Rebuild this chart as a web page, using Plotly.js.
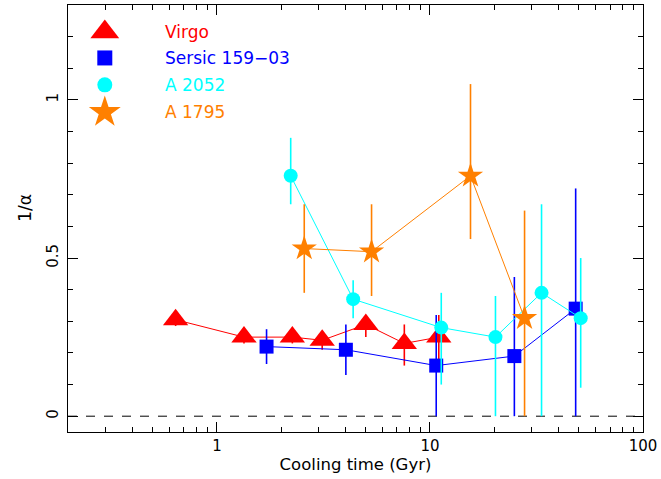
<!DOCTYPE html>
<html><head><meta charset="utf-8">
<script src="https://cdn.plot.ly/plotly-3.0.1.min.js"></script>
<style>html,body{margin:0;padding:0;background:#fff}#plot{width:661px;height:479px}</style>
</head><body><div id="plot"></div>
<script>
// ---- data ----
const virgoX = [0.64, 1.34, 2.26, 3.12, 5.0, 7.58, 11.0];
const virgoY = [0.305, 0.25, 0.25, 0.24, 0.29, 0.23, 0.25];
const virgoErrUp = [0.02, 0.02, 0.02, 0.02, 0.03, 0.06, 0.07];
const virgoErrDn = [0.02, 0.02, 0.02, 0.03, 0.04, 0.07, 0.07];

const sersicX = [1.71, 4.03, 10.7, 24.9, 48.3];
const sersicY = [0.22, 0.21, 0.16, 0.19, 0.34];
const sersicErrUp = [0.055, 0.08, 0.16, 0.25, 0.38];
const sersicErrDn = [0.055, 0.08, 0.16, 0.19, 0.34];

const a2052X = [2.22, 4.36, 11.3, 20.3, 33.4, 51.0];
const a2052Y = [0.76, 0.37, 0.28, 0.25, 0.39, 0.31];
const a2052ErrUp = [0.12, 0.06, 0.11, 0.13, 0.28, 0.19];
const a2052ErrDn = [0.09, 0.06, 0.18, 0.25, 0.39, 0.22];

const a1795X = [2.57, 5.32, 15.5, 27.8];
const a1795Y = [0.53, 0.52, 0.76, 0.31];
const a1795ErrUp = [0.14, 0.15, 0.29, 0.34];
const a1795ErrDn = [0.14, 0.14, 0.20, 0.31];

const seriesNames = ["Virgo", "Sersic 159\u221203", "A 2052", "A 1795"];
const seriesColors = ["#ff0000", "#0000ff", "#00ffff", "#ff8000"];
const seriesSymbols = ["triangle-up", "square", "circle", "star"];
const seriesSizes = [22, 14, 14, 19];

const xTickVals = [1, 10, 100];
const xTickText = ["1", "10", "100"];
const yTickVals = [0, 0.5, 1];
const yTickText = ["0", "0.5", "1"];

// ---- build ----
const FONT = "DejaVu Sans, sans-serif";
const series = [
  [virgoX, virgoY, virgoErrUp, virgoErrDn],
  [sersicX, sersicY, sersicErrUp, sersicErrDn],
  [a2052X, a2052Y, a2052ErrUp, a2052ErrDn],
  [a1795X, a1795Y, a1795ErrUp, a1795ErrDn]
];
const traces = series.map((s, i) => ({
  type: "scatter", mode: "lines+markers",
  x: s[0], y: s[1], name: seriesNames[i], showlegend: false,
  line: {color: seriesColors[i], width: 1},
  marker: {color: seriesColors[i], symbol: seriesSymbols[i], size: seriesSizes[i], opacity: 1, line: {width: 0}},
  error_y: {type: "data", symmetric: false, array: s[2], arrayminus: s[3],
            color: seriesColors[i], thickness: 1.6, width: 0}
}));

// legend key (manual, placed on hidden unit axes)
const keyX = 0.064, keyTextX = 0.165;
const keyY = [0.937, 0.876, 0.813, 0.749];
traces.push({
  type: "scatter", mode: "markers", xaxis: "x2", yaxis: "y2", showlegend: false,
  x: keyY.map(() => keyX), y: keyY, hoverinfo: "skip",
  marker: {color: seriesColors, symbol: seriesSymbols, size: [25, 15, 15, 24], opacity: 1, line: {width: 0}}
});
const annotations = seriesNames.map((n, i) => ({
  xref: "paper", yref: "paper", x: keyTextX, y: keyY[i], xanchor: "left", yanchor: "middle",
  text: n, showarrow: false, font: {family: FONT, size: 17, color: seriesColors[i]}
}));
annotations.push({
  xref: "paper", yref: "paper", x: -0.075, y: 0.525, xanchor: "center", yanchor: "middle",
  text: "1/\u03b1", textangle: -90, showarrow: false, font: {family: FONT, size: 17, color: "#000"}
});

const layout = {
  width: 661, height: 479,
  margin: {l: 68, r: 18, t: 5, b: 47},
  paper_bgcolor: "#fff", plot_bgcolor: "#fff",
  font: {family: FONT, size: 15, color: "#000"},
  showlegend: false,
  xaxis: {
    type: "log", range: [Math.log10(0.2), 2],
    tickvals: xTickVals, ticktext: xTickText, tickfont: {family: FONT, size: 15},
    ticks: "inside", ticklen: 10, tickwidth: 1, tickcolor: "#000",
    minor: {ticks: "inside", ticklen: 5, tickwidth: 1, tickcolor: "#000", dtick: "D1", showgrid: false},
    showline: true, linecolor: "#000", linewidth: 1.2, mirror: "allticks",
    showgrid: false, zeroline: false,
    title: {text: "Cooling time (Gyr)", font: {family: FONT, size: 16.5}, standoff: 2}
  },
  yaxis: {
    range: [-0.05, 1.3],
    tickvals: yTickVals, ticktext: yTickText, tickangle: -90, tickfont: {family: FONT, size: 15},
    ticklabelstandoff: 3,
    ticks: "inside", ticklen: 10, tickwidth: 1, tickcolor: "#000",
    minor: {ticks: "inside", ticklen: 5, tickwidth: 1, tickcolor: "#000", dtick: 0.1, showgrid: false},
    showline: true, linecolor: "#000", linewidth: 1.2, mirror: "allticks",
    showgrid: false, zeroline: false
  },
  xaxis2: {overlaying: "x", range: [0, 1], visible: false, fixedrange: true},
  yaxis2: {overlaying: "y", range: [0, 1], visible: false, fixedrange: true},
  shapes: [{type: "line", xref: "paper", yref: "y", x0: 0, x1: 1, y0: 0, y1: 0,
            line: {color: "#000", width: 1, dash: "dash"}, layer: "below"}],
  annotations: annotations
};
Plotly.newPlot("plot", traces, layout, {staticPlot: true, displayModeBar: false});
</script>
</body></html>
